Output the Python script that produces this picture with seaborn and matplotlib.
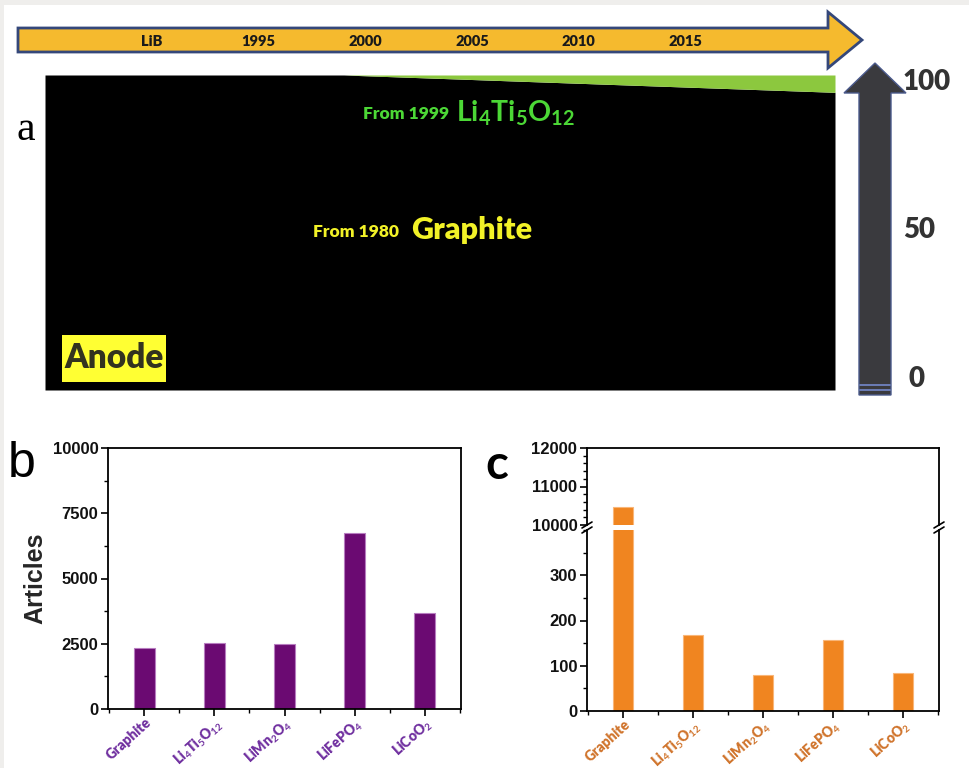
import numpy as np
import pandas as pd
import matplotlib
matplotlib.use("Agg")
import matplotlib.pyplot as plt
import matplotlib.transforms as mtransforms
import seaborn as sns
from matplotlib.patches import Polygon, Rectangle
from matplotlib.lines import Line2D
from matplotlib.ticker import MultipleLocator, AutoMinorLocator

# ---------------- data ----------------
timeline_labels = ["LiB", "1995", "2000", "2005", "2010", "2015"]
timeline_years = [1990, 1995, 2000, 2005, 2010, 2015]

share_years = [1985, 1999, 2022]
graphite_share = [100, 100, 94.5]
lto_share = [0, 0, 5.5]

scale_ticks = [0, 50, 100]
scale_labels = ["0", "50", "100"]

materials = ["Graphite", "Li4Ti5O12", "LiMn2O4", "LiFePO4", "LiCoO2"]
material_labels = ["Graphite", r"Li$_4$Ti$_5$O$_{12}$", r"LiMn$_2$O$_4$",
                   r"LiFePO$_4$", r"LiCoO$_2$"]
articles_b = [2320, 2510, 2500, 6760, 3690]
articles_c = [10470, 168, 80, 157, 85]

# ---------------- style ----------------
sns.set_theme(style="ticks")
plt.rcParams['font.family'] = ['Liberation Sans', 'DejaVu Sans']
plt.rcParams['mathtext.fontset'] = 'custom'
plt.rcParams['mathtext.rm'] = 'Lato:bold'
plt.rcParams['mathtext.it'] = 'Lato:bold:italic'
plt.rcParams['mathtext.bf'] = 'Lato:bold'
plt.rcParams['mathtext.default'] = 'rm'

W, H = 969, 768
fig = plt.figure(figsize=(W / 100, H / 100), dpi=100)
fig.patch.set_facecolor('#efeeec')


def fx(x):
    return x / W


def fy(y):
    return 1 - y / H


fig.add_artist(Rectangle((fx(4), 0), 1 - fx(4), fy(5), transform=fig.transFigure,
                         facecolor='white', edgecolor='none', zorder=-10))

# ---------------- panel a ----------------
ax_a = fig.add_axes([fx(45), fy(390), fx(835) - fx(45), (390 - 75) / H])
ax_a.stackplot(share_years, graphite_share, lto_share,
               colors=['black', '#8cc83e'], linewidth=0)
ax_a.set_xlim(share_years[0], share_years[-1])
ax_a.set_ylim(0, 100)
ax_a.set_axis_off()

# timeline arrow
tl = [(18, 28), (828, 28), (828, 12), (862, 40), (828, 68), (828, 52), (18, 52)]
fig.add_artist(Polygon([(fx(x), fy(y)) for x, y in tl], closed=True,
                       transform=fig.transFigure, facecolor='#f5ba2e',
                       edgecolor='#34477a', linewidth=2, zorder=5))
blend = mtransforms.blended_transform_factory(ax_a.transData, fig.transFigure)
for yr, lab in zip(timeline_years, timeline_labels):
    fig.text(yr, fy(41), lab, transform=blend, ha='center', va='center',
             family='Lato', weight='heavy', fontsize=10.5, color='#1a1a1a', zorder=6)

# texts inside panel a
fig.text(fx(363), fy(114), "From 1999", ha='left', va='center', family='Lato',
         weight='heavy', fontsize=12.5, color='#4cd836')
fig.text(fx(456), fy(122), r"Li$_4$Ti$_5$O$_{12}$", ha='left', va='baseline',
         family='Lato', weight='bold', fontsize=20.5, color='#4cd836')
fig.text(fx(313), fy(232), "From 1980", ha='left', va='center', family='Lato',
         weight='heavy', fontsize=12.5, color='#f2f227')
fig.text(fx(411), fy(239), "Graphite", ha='left', va='baseline', family='Lato',
         weight='heavy', fontsize=22, color='#f2f227')
fig.add_artist(Rectangle((fx(62), fy(382)), (166 - 62) / W, (382 - 335) / H,
                         transform=fig.transFigure, facecolor='#ffff33',
                         edgecolor='none', zorder=4))
fig.text(fx(114), fy(358), "Anode", ha='center', va='center', family='Lato',
         weight='heavy', fontsize=24, color='#33331f', zorder=5)
fig.text(fx(17), fy(140), "a", ha='left', va='baseline', family='Liberation Serif',
         fontsize=30, color='black')

# right scale arrow
ra = [(859, 395), (859, 93), (844, 93), (875, 63), (906, 93), (891, 93), (891, 395)]
fig.add_artist(Polygon([(fx(x), fy(y)) for x, y in ra], closed=True,
                       transform=fig.transFigure, facecolor='#3a3a3e',
                       edgecolor='#4b5a8c', linewidth=1, zorder=5))
for yy in (385, 390):
    fig.add_artist(Line2D([fx(860), fx(890)], [fy(yy), fy(yy)],
                          transform=fig.transFigure, color='#7083c0',
                          linewidth=1.3, zorder=6))
ax_s = fig.add_axes([fx(903), fy(379), 0.04, (379 - 82) / H])
ax_s.set_ylim(0, 100)
ax_s.set_xlim(0, 1)
ax_s.set_axis_off()
for v, lab in zip(scale_ticks, scale_labels):
    ax_s.text(0.0 if v else 0.15, v, lab, ha='left', va='center', family='Lato',
              weight='heavy', fontsize=20, color='#333333')


# ---------------- helpers for bar panels ----------------
def style_axis(ax):
    for s in ax.spines.values():
        s.set_linewidth(1.3)
        s.set_color('black')
        s.set_visible(True)
    ax.tick_params(axis='both', which='major', direction='out', length=5,
                   width=1.2, color='black', top=False, right=False, pad=2)
    ax.tick_params(axis='both', which='minor', direction='out', length=3,
                   width=1.0, color='black', top=False, right=False)
    ax.tick_params(axis='x', which='major', pad=0)
    for t in ax.get_yticklabels():
        t.set_fontweight('bold')
        t.set_fontsize(12)
        t.set_color('#111111')


def style_xlabels(ax, color):
    ax.set_xticks(range(len(materials)))
    ax.set_xticklabels(material_labels, rotation=42, ha='right',
                       rotation_mode='anchor', color=color, fontsize=10,
                       family='Lato', weight='heavy')
    ax.xaxis.set_minor_locator(AutoMinorLocator(2))
    ax.set_xlim(-0.52, 4.52)
    ax.set_xlabel("")


# ---------------- panel b ----------------
ax_b = fig.add_axes([fx(108), fy(709), (461 - 108) / W, (709 - 448) / H])
sns.barplot(x=materials, y=articles_b, color='#6b0a72', saturation=1, width=0.29,
            edgecolor='#b77cc0', linewidth=0.8, ax=ax_b)
ax_b.set_ylim(0, 10000)
ax_b.yaxis.set_major_locator(MultipleLocator(2500))
ax_b.yaxis.set_minor_locator(MultipleLocator(1250))
style_xlabels(ax_b, '#7030a0')
style_axis(ax_b)
ax_b.set_ylabel("Articles", fontsize=18, weight='bold', labelpad=4)
fig.text(fx(8), fy(477), "b", ha='left', va='baseline', fontsize=36, color='black')

# ---------------- panel c (broken axis) ----------------
ax_ct = fig.add_axes([fx(587), fy(525), (939 - 587) / W, (525 - 448) / H])
ax_cb = fig.add_axes([fx(587), fy(711), (939 - 587) / W, (711 - 530) / H])
for ax in (ax_ct, ax_cb):
    sns.barplot(x=materials, y=articles_c, color='#f08520', saturation=1,
                width=0.29, edgecolor='#f9b678', linewidth=0.8, ax=ax)
    ax.set_xlim(-0.52, 4.52)

ax_ct.set_ylim(10000, 12000)
ax_ct.yaxis.set_major_locator(MultipleLocator(1000))
ax_ct.yaxis.set_minor_locator(MultipleLocator(200))
style_axis(ax_ct)
ax_ct.spines['bottom'].set_visible(False)
ax_ct.tick_params(axis='x', which='both', bottom=False, labelbottom=False)
ax_ct.set_xlabel("")
ax_ct.set_ylabel("")

ax_cb.set_ylim(0, 400)
ax_cb.set_yticks([0, 100, 200, 300])
ax_cb.yaxis.set_minor_locator(MultipleLocator(50))
style_xlabels(ax_cb, '#d0742c')
style_axis(ax_cb)
ax_cb.spines['top'].set_visible(False)
ax_cb.set_ylabel("")

for xb in (587, 939):
    for dy in (-2.5, 2.5):
        fig.add_artist(Line2D([fx(xb - 5), fx(xb + 5)],
                              [fy(527.5 + dy + 3), fy(527.5 + dy - 3)],
                              transform=fig.transFigure, color='black',
                              linewidth=1.2, zorder=6))

fig.text(fx(485), fy(479), "c", ha='left', va='baseline', family='Lato',
         weight='bold', fontsize=34, color='black')

fig.savefig("out.png", dpi=100, facecolor=fig.get_facecolor())
